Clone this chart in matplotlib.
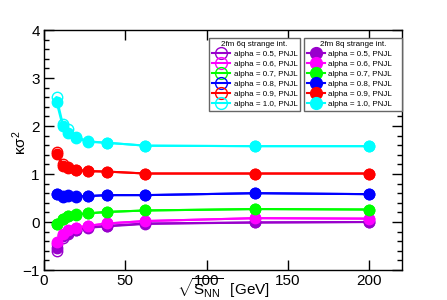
import matplotlib
matplotlib.use("Agg")
import matplotlib.pyplot as plt
from matplotlib.ticker import MultipleLocator

plt.rcParams['font.family'] = ['Liberation Sans', 'DejaVu Sans']
plt.rcParams['mathtext.fontset'] = 'custom'
plt.rcParams['mathtext.rm'] = 'Liberation Sans'
plt.rcParams['mathtext.it'] = 'Liberation Sans:italic'

energies = [7.7, 11.5, 14.5, 19.6, 27, 39, 62.4, 130, 200]
alphas = ["0.5", "0.6", "0.7", "0.8", "0.9", "1.0"]
colors = ["#9900cc", "#ff00ff", "#00ff00", "#0000ff", "#ff0000", "#00ffff"]

# 2fm 8q strange int. (filled)
k8q = [
    [-0.55, -0.30, -0.22, -0.16, -0.11, -0.08, -0.03, -0.01, 0.00],
    [-0.41, -0.25, -0.17, -0.12, -0.08, -0.03, 0.02, 0.08, 0.07],
    [-0.05, 0.06, 0.12, 0.15, 0.18, 0.21, 0.24, 0.27, 0.26],
    [0.58, 0.52, 0.54, 0.53, 0.54, 0.56, 0.56, 0.60, 0.58],
    [1.42, 1.17, 1.12, 1.08, 1.06, 1.05, 1.01, 1.01, 1.01],
    [2.50, 2.00, 1.86, 1.75, 1.67, 1.65, 1.59, 1.58, 1.58],
]
# 2fm 6q strange int. (open)
k6q = [
    [-0.60, -0.33, -0.24, -0.17, -0.12, -0.09, -0.04, -0.01, 0.00],
    [-0.45, -0.27, -0.18, -0.13, -0.08, -0.03, 0.02, 0.08, 0.07],
    [-0.04, 0.07, 0.13, 0.16, 0.18, 0.21, 0.24, 0.27, 0.26],
    [0.59, 0.55, 0.57, 0.54, 0.54, 0.56, 0.56, 0.60, 0.58],
    [1.45, 1.20, 1.15, 1.09, 1.06, 1.05, 1.01, 1.01, 1.01],
    [2.60, 2.05, 1.93, 1.78, 1.68, 1.65, 1.59, 1.58, 1.58],
]

fig = plt.figure(figsize=(4.47, 3.0), dpi=100)
ax = fig.add_axes([0.0984, 0.1, 0.8006, 0.8])

h6, h8 = [], []
for vals, c in zip(k6q, colors):
    l, = ax.plot(energies, vals, color=c, lw=1.5, marker='o', ms=7.5,
                 mfc='none', mec=c, mew=1.0)
    h6.append(l)
for vals, c in zip(k8q, colors):
    l, = ax.plot(energies, vals, color=c, lw=1.5, marker='o', ms=7.5,
                 mfc=c, mec=c)
    h8.append(l)

ax.set_xlim(0, 220)
ax.set_ylim(-1, 4)
ax.xaxis.set_major_locator(MultipleLocator(50))
ax.yaxis.set_major_locator(MultipleLocator(1))
ax.yaxis.set_minor_locator(MultipleLocator(0.2))
ax.tick_params(which='both', direction='in', top=True, right=True, labelsize=11, width=1)
ax.tick_params(which='major', length=7, pad=3)
ax.tick_params(which='minor', length=3.5)
ax.set_yticks([-1, 0, 1, 2, 3, 4])
ax.set_yticklabels(['\u22121', '0', '1', '2', '3', '4'])
for s in ax.spines.values():
    s.set_linewidth(1.0)

fig.text(0.5, 0.04, r'$\sqrt{\mathrm{S_{NN}}}$  [GeV]', ha='center', va='center', fontsize=11)
fig.text(0.045, 0.523, '\u03ba\u03c3$^2$', rotation=90, ha='center', va='center', fontsize=11)

labels = ["alpha = %s, PNJL" % a for a in alphas]
common = dict(fontsize=5.8, title_fontsize=5.8, loc='upper left', mode='expand',
              borderaxespad=0, fancybox=False, edgecolor='#666666', framealpha=1,
              handlelength=2.3, handletextpad=0.4, labelspacing=0.3, borderpad=0.35)
leg1 = ax.legend(h6, labels, title="2fm 6q strange int.",
                 bbox_to_anchor=(0.461, 0.967, 0.254, 0.0), **common)
ax.add_artist(leg1)
leg2 = ax.legend(h8, labels, title="2fm 8q strange int.",
                 bbox_to_anchor=(0.726, 0.967, 0.274, 0.0), **common)
for leg in (leg1, leg2):
    leg.get_frame().set_linewidth(1.0)
    for h in leg.legend_handles:
        h.set_markersize(8.5)

fig.savefig("out.png", dpi=100)
